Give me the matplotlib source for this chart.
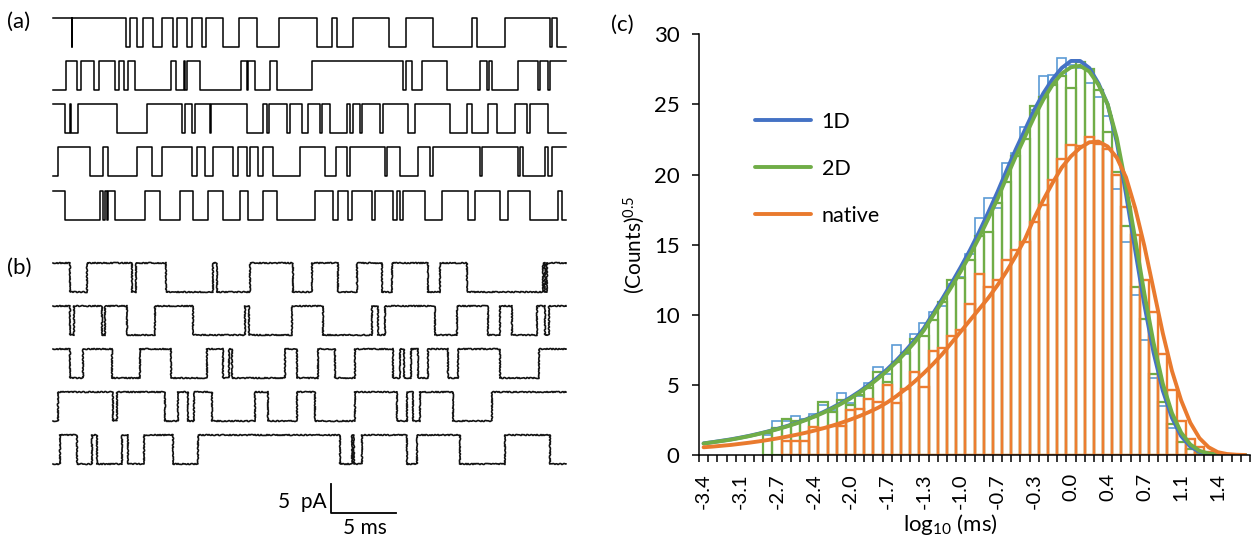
import numpy as np
import matplotlib.pyplot as plt

plt.rcParams['font.family'] = ['Lato', 'DejaVu Sans']
plt.rcParams['mathtext.default'] = 'regular'

W, H = 1255, 541

# ---------------- (a)/(b) single-channel sweeps ----------------
# transition times (ms from sweep start); level flips at every entry
sweep_ms = 39.5
amp_pA = 5.0

ideal_start = [1, 0, 1, 0, 1]
ideal_times = [
    [1.44, 1.5, 5.62, 5.92, 6.44, 6.95, 7.72, 8.36, 9.25, 9.52, 10.28, 10.67, 11.44, 11.77,
     13.05, 14.33, 15.67, 17.41, 20.28, 21.44, 21.82, 23.1, 25.87, 27.15, 29.21, 32.21,
     32.59, 34.77, 38.23, 38.36, 38.75],
    [1.0, 1.87, 2.18, 3.18, 3.56, 4.77, 5.1, 5.46, 5.79, 6.31, 9.05, 9.46, 10.08, 10.12,
     10.28, 11.31, 14.44, 14.9, 15.02, 15.54, 16.69, 17.21, 19.9, 26.95, 27.15, 27.59,
     28.36, 30.28, 32.85, 33.36, 33.56, 33.75, 35.79, 37.33, 37.46, 38.1, 38.23],
    [0.92, 1.31, 1.38, 1.95, 4.9, 7.21, 9.9, 10.15, 10.67, 10.92, 12.08, 12.15, 14.9, 16.18,
     16.44, 16.64, 17.98, 18.23, 19.13, 19.64, 20.54, 20.67, 21.31, 22.59, 22.85, 23.08,
     23.62, 23.75, 25.15, 25.41, 27.33, 27.85, 30.54, 31.82, 32.21, 33.48, 34.13, 35.54,
     36.44, 36.69, 38.1],
    [0.41, 2.85, 3.87, 4.25, 6.44, 7.59, 8.36, 10.67, 11.05, 11.69, 12.33, 13.87, 14.25,
     14.9, 15.15, 15.79, 16.18, 16.95, 19.0, 20.92, 21.77, 22.59, 22.85, 25.54, 25.72,
     26.69, 28.1, 29.0, 29.25, 32.85, 32.98, 35.79, 35.92, 36.13, 37.85, 38.1, 38.36],
    [0.92, 3.62, 3.87, 4.0, 4.13, 4.25, 4.77, 7.08, 8.23, 9.77, 10.79, 11.95, 13.1, 14.38,
     15.02, 16.18, 17.21, 20.15, 21.56, 21.95, 22.72, 22.98, 24.52, 24.77, 26.18, 26.44,
     26.69, 26.95, 28.62, 29.9, 31.95, 32.46, 34.38, 35.02, 36.69, 38.87, 39.13],
]

raw_start = [1, 1, 1, 0, 0]
raw_times = [
    [1.31, 2.59, 6.05, 6.38, 8.69, 12.33, 12.64, 15.15, 18.48, 19.9, 21.95, 23.36, 25.28,
     26.05, 28.87, 29.77, 31.82, 37.67, 37.85, 38.02],
    [1.31, 1.62, 3.75, 4.0, 5.67, 7.85, 10.75, 14.77, 15.1, 18.36, 20.79, 24.52, 25.02,
     25.54, 29.38, 31.05, 33.48, 34.38, 35.28, 37.21, 37.85, 38.18],
    [1.31, 2.28, 4.52, 6.69, 9.05, 11.87, 13.05, 13.56, 13.75, 17.85, 18.75, 20.41, 21.69,
     23.23, 26.18, 26.69, 27.0, 27.54, 28.1, 28.87, 30.41, 31.18, 34.38, 37.41],
    [0.41, 4.64, 4.95, 8.62, 9.64, 10.41, 10.87, 12.21, 15.54, 16.56, 18.75, 20.15, 23.23,
     26.44, 27.21, 27.72, 28.23, 30.79, 33.75],
    [0.54, 1.82, 2.98, 3.36, 5.28, 5.79, 7.0, 9.25, 11.18, 22.08, 22.98, 23.15, 23.75,
     27.21, 27.98, 31.31, 34.77, 38.23],
]

# ---------------- (c) dwell-time histograms ----------------
bin_labels = ['-3.4', '-3.1', '-2.7', '-2.4', '-2.0', '-1.7', '-1.3', '-1.0',
              '-0.7', '-0.3', '0.0', '0.4', '0.7', '1.1', '1.4']

hist_1d = [0, 0, 0, 0, 0, 0, 0, 1.45, 2.4, 2.45, 2.8, 2.55, 2.95, 3.6, 3.2, 4.4, 3.7, 4.2,
           5.1, 6.25, 5.8, 7.85, 7.2, 8.6, 9.4, 10.2, 10.6, 12.2, 12.7, 14.3, 16.9, 18.3,
           17.6, 20.8, 21.5, 23.4, 24.6, 27.0, 27.1, 28.3, 27.8, 27.6, 26.5, 25.5, 24.2,
           19.0, 15.2, 11.4, 8.2, 5.5, 3.5, 1.9, 0.9, 0.4, 0.1, 0, 0, 0, 0, 0]
hist_2d = [0, 0, 0, 0, 0, 0, 0, 1.55, 1.9, 2.6, 2.4, 2.5, 2.7, 3.8, 3.1, 3.9, 3.6, 4.3,
           4.8, 5.9, 5.2, 6.6, 7.3, 8.3, 8.5, 9.6, 10.9, 12.45, 12.6, 13.9, 15.6, 15.9,
           18.0, 19.5, 21.3, 22.5, 24.9, 25.5, 26.4, 27.0, 26.2, 28.0, 27.5, 26.0, 23.0,
           20.2, 16.3, 12.0, 9.7, 5.8, 3.76, 2.2, 0.9, 0.4, 0.15, 0, 0, 0, 0, 0]
hist_native = [0, 0, 0, 0, 0, 0, 0, 0, 0, 1.0, 1.0, 1.0, 2.0, 1.95, 2.05, 2.1, 3.2, 3.3,
               4.0, 3.8, 5.0, 3.7, 4.7, 5.9, 4.85, 7.45, 7.6, 8.5, 8.9, 10.8, 12.9, 12.0,
               12.5, 13.9, 14.6, 15.2, 16.6, 17.8, 19.6, 21.1, 22.1, 22.0, 22.7, 22.2,
               21.8, 20.0, 17.7, 15.7, 12.5, 10.2, 7.2, 4.6, 2.45, 1.14, 0.6, 0.2,
               0, 0, 0, 0]

fit_1d = [0.83, 0.92, 1.02, 1.12, 1.24, 1.37, 1.52, 1.68, 1.86, 2.05, 2.26, 2.5, 2.76,
          3.05, 3.37, 3.72, 4.11, 4.54, 5.02, 5.55, 6.12, 6.75, 7.45, 8.2, 9.05, 10.1,
          11.15, 12.25, 13.4, 14.6, 15.9, 17.3, 18.75, 20.3, 21.8, 23.2, 24.6, 25.8,
          26.8, 27.6, 28.1, 28.1, 27.6, 26.5, 25.0, 22.3, 18.6, 14.6, 10.7, 7.3, 4.6,
          2.65, 1.35, 0.6, 0.22, 0.07, 0.02, 0, 0, 0]
fit_2d = [0.82, 0.91, 1.0, 1.1, 1.22, 1.35, 1.5, 1.66, 1.83, 2.02, 2.23, 2.46, 2.72, 3.0,
          3.31, 3.66, 4.04, 4.46, 4.93, 5.45, 6.01, 6.63, 7.31, 8.05, 8.9, 9.95, 10.95,
          12.0, 13.1, 14.25, 15.5, 16.85, 18.25, 19.8, 21.3, 22.7, 24.1, 25.35, 26.4,
          27.2, 27.65, 27.75, 27.35, 26.4, 25.0, 22.6, 19.2, 15.4, 11.5, 8.0, 5.1, 3.0,
          1.6, 0.75, 0.3, 0.1, 0.03, 0, 0, 0]
fit_native = [0.55, 0.6, 0.66, 0.72, 0.8, 0.88, 0.97, 1.07, 1.18, 1.3, 1.43, 1.57, 1.73,
              1.9, 2.09, 2.3, 2.53, 2.78, 3.06, 3.37, 3.75, 4.2, 4.7, 5.25, 5.85, 6.5,
              7.2, 8.0, 8.8, 9.6, 10.4, 11.2, 12.1, 13.1, 14.2, 15.4, 16.9, 18.2, 19.4,
              20.5, 21.3, 21.9, 22.3, 22.35, 22.0, 21.2, 19.8, 17.6, 14.9, 11.8, 8.7,
              6.0, 3.9, 2.3, 1.2, 0.55, 0.2, 0.07, 0.02, 0]


def sweep_xy(times, start):
    t = [0.0] + list(times) + [sweep_ms]
    lev = [(start + k) % 2 for k in range(len(times) + 1)]
    return t, lev + [lev[-1]]


fig = plt.figure(figsize=(W / 100, H / 100), dpi=100)

# left panel in ms / pA
axL = fig.add_axes([0, 0, 600 / W, 1])
axL.set_xlim(-53 / 13, 547 / 13)
axL.set_ylim(0, H / 5.8)
axL.axis('off')

row_gap = 7.45
for k, (times, s0) in enumerate(zip(ideal_times, ideal_start)):
    t, lev = sweep_xy(times, s0)
    base = 85.2 - k * row_gap
    axL.step(t, base + amp_pA * np.array(lev), where='post', color='black', lw=1.1)

for k, (times, s0) in enumerate(zip(raw_times, raw_start)):
    t, lev = sweep_xy(times, s0)
    base = 43.0 - k * row_gap
    ln, = axL.step(t, base + amp_pA * np.array(lev), where='post', color='#111111', lw=1.2)
    # recording noise drawn as a fine jitter on the line
    ln.set_sketch_params(scale=0.55, length=2.0, randomness=3)

# scale bar
bx, by = 21.36, 4.83
axL.plot([bx, bx, bx + 5], [by + 5, by, by], color='black', lw=1.3)
axL.text(bx - 0.35, by + 1.9, '5  pA', ha='right', va='center', fontsize=15)
axL.text(bx + 2.65, by - 2.55, '5 ms', ha='center', va='center', fontsize=15)

fig.text(7 / W, 1 - 22 / H, '(a)', va='center', fontsize=16)
fig.text(7 / W, 1 - 268 / H, '(b)', va='center', fontsize=16)
fig.text(611 / W, 1 - 25 / H, '(c)', va='center', fontsize=16)

# right panel
axR = fig.add_axes([699 / W, (H - 455) / H, 551 / W, (455 - 34.3) / H])
pos = np.arange(len(hist_1d))
for vals, col, lw in [(hist_1d, '#5B9BD5', 1.2), (hist_2d, '#70AD47', 1.6),
                      (hist_native, '#ED7D31', 1.7)]:
    v = np.array(vals)
    keep = v > 0
    axR.bar(pos[keep], v[keep], width=1.0, fill=False, edgecolor=col, lw=lw)

l1, = axR.plot(pos, fit_1d, color='#4472C4', lw=2.8, solid_capstyle='round')
l2, = axR.plot(pos, fit_2d, color='#70AD47', lw=2.8, solid_capstyle='round')
l3, = axR.plot(pos, fit_native, color='#E97A2E', lw=2.8, solid_capstyle='round')

axR.set_xlim(-0.5, len(pos) - 0.5)
axR.set_ylim(0, 30)
axR.set_yticks(np.arange(0, 31, 5))
axR.set_xticks(np.arange(-0.5, len(pos), 1))
axR.set_xticklabels([])
axR.set_xticks(np.arange(0, 4 * len(bin_labels), 4), minor=True)
axR.set_xticklabels(bin_labels, minor=True, rotation=90, fontsize=14.5)
axR.tick_params(axis='x', which='major', length=5, width=1.1, direction='out')
axR.tick_params(axis='x', which='minor', length=0, pad=13)
axR.tick_params(axis='y', length=5, width=1.1, labelsize=16, pad=9)
for sp in ['top', 'right']:
    axR.spines[sp].set_visible(False)
for sp in ['left', 'bottom']:
    axR.spines[sp].set_linewidth(1.1)

axR.set_ylabel('(Counts)$^{0.5}$', fontsize=15)
axR.yaxis.set_label_coords(-0.095, 0.5)
axR.set_xlabel('log$_{10}$ (ms)', fontsize=16)
axR.xaxis.set_label_coords(0.457, -0.135)

axR.legend([l1, l2, l3], ['1D', '2D', 'native'], loc='upper left', frameon=False,
           bbox_to_anchor=(755 / W, 1 - 112 / H), bbox_transform=fig.transFigure,
           borderpad=0, borderaxespad=0, handlelength=2.6, handletextpad=0.5,
           labelspacing=1.25, fontsize=15.5)

fig.savefig('out.png', dpi=100)
